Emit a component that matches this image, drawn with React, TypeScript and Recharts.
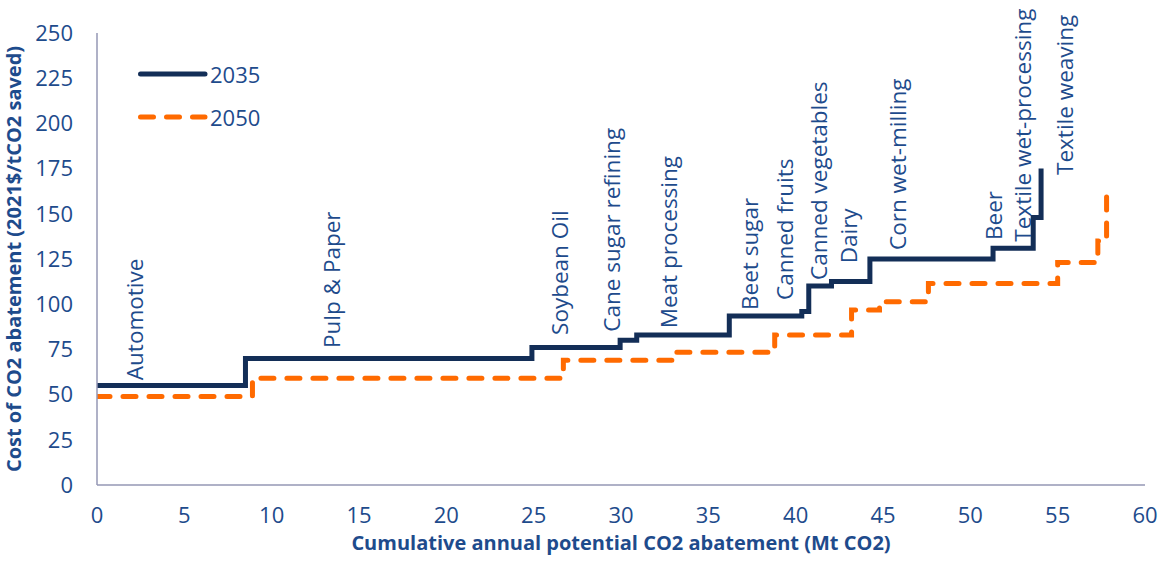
import React from "react";
import {
  ComposedChart,
  Line,
  Scatter,
  XAxis,
  YAxis,
  Legend,
} from "recharts";

// 2035 cost curve (step starts)
const x2035 = [0, 8.5, 24.9, 29.95, 30.9, 36.2, 40.35, 40.75, 42.05, 44.25, 51.3, 53.6, 54.05];
const y2035 = [55, 70, 76, 80, 83, 93.5, 96, 110, 112.5, 125, 131, 148, 175];

// 2050 cost curve (step starts)
const x2050 = [0, 8.9, 26.7, 33.0, 38.8, 43.2, 44.8, 47.6, 55.0, 57.3, 57.8];
const y2050 = [49, 59, 69, 73.4, 83, 96.8, 101.4, 111.5, 123, 135, 160];

// Sector labels
const sectorNames = [
  "Automotive",
  "Pulp & Paper",
  "Soybean Oil",
  "Cane sugar refining",
  "Meat processing",
  "Beet sugar",
  "Canned fruits",
  "Canned vegetables",
  "Dairy",
  "Corn wet-milling",
  "Beer",
  "Textile wet-processing",
  "Textile weaving",
];
const sectorX = [2.63, 13.9, 26.96, 29.94, 33.2, 37.85, 39.86, 41.77, 43.5, 46.3, 51.8, 53.5, 55.9];
const sectorY = [58, 75.8, 83, 84.8, 86.7, 96.8, 102.3, 113.4, 122.6, 130, 135.5, 134.6, 171.5];

const xTicks = [0, 5, 10, 15, 20, 25, 30, 35, 40, 45, 50, 55, 60];
const yTicks = [0, 25, 50, 75, 100, 125, 150, 175, 200, 225, 250];

const data2035 = x2035.map((x, i) => ({ x, y: y2035[i] }));
const data2050 = x2050.map((x, i) => ({ x, y: y2050[i] }));
const labelData = sectorNames.map((name, i) => ({ name, x: sectorX[i], y: sectorY[i] }));

const FONT = "'Open Sans', sans-serif";
const TEXT = "#1E4B8C";
const NAVY = "#132E57";
const ORANGE = "#FF6A00";
const AXIS = "#9597B5";

const LabelShape = (props: any) => {
  const { cx, cy, payload } = props;
  return (
    <text
      x={cx}
      y={cy}
      transform={`rotate(-90, ${cx}, ${cy})`}
      fontFamily={FONT}
      fontSize={22.5}
      fill={TEXT}
      textAnchor="start"
    >
      {payload.name}
    </text>
  );
};

const LegendContent = (props: any) => {
  const items = (props.payload || []).filter((p: any) => p.value === "2035" || p.value === "2050");
  return (
    <div>
      {items.map((entry: any) => (
        <div key={entry.value} style={{ display: "flex", alignItems: "center", height: 43 }}>
          <svg width={70} height={10} style={{ display: "block" }}>
            <line
              x1={2.5}
              y1={5}
              x2={67}
              y2={5}
              stroke={entry.color}
              strokeWidth={5}
              strokeLinecap="round"
              strokeDasharray={entry.value === "2050" ? "13 13" : undefined}
            />
          </svg>
          <span style={{ fontFamily: FONT, fontSize: 22, color: TEXT, marginLeft: 2 }}>{entry.value}</span>
        </div>
      ))}
    </div>
  );
};

export default function App() {
  return (
    <div style={{ position: "absolute", left: 0, top: 0, width: 1161, height: 562, background: "#fff" }}>
      <ComposedChart width={1161} height={562} margin={{ top: 33, right: 16, bottom: 0, left: 0 }}>
        <XAxis
          type="number"
          dataKey="x"
          domain={[0, 60]}
          ticks={xTicks}
          allowDataOverflow
          height={77}
          tickLine={false}
          tickSize={0}
          tickMargin={22}
          axisLine={{ stroke: AXIS, strokeWidth: 1.5 }}
          tick={{ fontFamily: FONT, fontSize: 22, fill: TEXT }}
          label={{
            content: (p: any) => {
              const vb = p.viewBox;
              return (
                <text
                  x={vb.x + vb.width / 2}
                  y={vb.y + 65}
                  textAnchor="middle"
                  fontFamily={FONT}
                  fontWeight={700}
                  fontSize={20}
                  fill={TEXT}
                >
                  Cumulative annual potential CO2 abatement (Mt CO2)
                </text>
              );
            },
          }}
        />
        <YAxis
          type="number"
          dataKey="y"
          domain={[0, 250]}
          ticks={yTicks}
          width={97}
          tickLine={false}
          tickSize={0}
          tickMargin={24}
          axisLine={{ stroke: AXIS, strokeWidth: 1.5 }}
          tick={{ fontFamily: FONT, fontSize: 22, fill: TEXT }}
          label={{
            content: (p: any) => {
              const vb = p.viewBox;
              const cx = vb.x + 13;
              const cy = vb.y + vb.height / 2;
              return (
                <text
                  x={cx}
                  y={cy}
                  transform={`rotate(-90, ${cx}, ${cy})`}
                  textAnchor="middle"
                  dominantBaseline="central"
                  fontFamily={FONT}
                  fontWeight={700}
                  fontSize={20}
                  fill={TEXT}
                >
                  Cost of CO2 abatement (2021$/tCO2 saved)
                </text>
              );
            },
          }}
        />
        <Legend
          layout="vertical"
          align="center"
          verticalAlign="middle"
          content={<LegendContent />}
          wrapperStyle={{ left: 138, top: 52, width: 200 }}
        />
        <Line
          name="2035"
          data={data2035}
          dataKey="y"
          type="stepAfter"
          stroke={NAVY}
          strokeWidth={5}
          strokeLinejoin="miter"
          dot={false}
          activeDot={false}
          isAnimationActive={false}
        />
        <Line
          name="2050"
          data={data2050}
          dataKey="y"
          type="stepAfter"
          stroke={ORANGE}
          strokeWidth={5}
          strokeDasharray="13 13"
          strokeLinecap="round"
          dot={false}
          activeDot={false}
          isAnimationActive={false}
        />
        <Scatter
          name="labels"
          data={labelData}
          dataKey="y"
          legendType="none"
          shape={<LabelShape />}
          isAnimationActive={false}
        />
      </ComposedChart>
    </div>
  );
}
